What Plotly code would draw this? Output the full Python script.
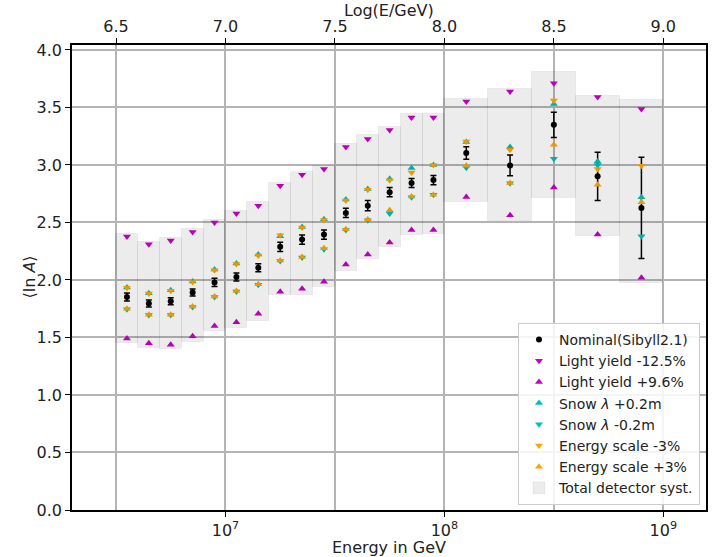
import plotly.graph_objects as go

# Bin edges in log10(E/GeV)
bin_lo = [6.5, 6.6, 6.7, 6.8, 6.9, 7.0, 7.1, 7.2, 7.3, 7.4, 7.5, 7.6, 7.7, 7.8, 7.9, 8.0, 8.2, 8.4, 8.6, 8.8]
bin_hi = [6.6, 6.7, 6.8, 6.9, 7.0, 7.1, 7.2, 7.3, 7.4, 7.5, 7.6, 7.7, 7.8, 7.9, 8.0, 8.2, 8.4, 8.6, 8.8, 9.0]

nominal = [1.852, 1.796, 1.815, 1.891, 1.979, 2.025, 2.106, 2.288, 2.351, 2.395,
           2.583, 2.646, 2.763, 2.843, 2.869, 3.104, 2.996, 3.349, 2.901, 2.626]
nominal_err = [0.035, 0.03, 0.03, 0.03, 0.035, 0.035, 0.035, 0.04, 0.04, 0.04,
               0.04, 0.045, 0.04, 0.04, 0.04, 0.055, 0.09, 0.11, 0.21, 0.44]
ly_minus = [2.378, 2.311, 2.343, 2.418, 2.499, 2.577, 2.646, 2.82, 2.915, 2.965,
            3.156, 3.225, 3.303, 3.413, 3.413, 3.551, 3.638, 3.71, 3.59, 3.486]
ly_plus = [1.491, 1.449, 1.437, 1.51, 1.6, 1.632, 1.707, 1.898, 1.924, 1.984,
           2.134, 2.221, 2.325, 2.434, 2.434, 2.722, 2.562, 2.805, 2.395, 2.019]
snow_plus = [1.935, 1.885, 1.911, 1.987, 2.092, 2.143, 2.222, 2.38, 2.46, 2.528,
             2.7, 2.79, 2.881, 2.973, 3.0, 3.2, 3.156, 3.531, 3.031, 2.719]
snow_minus = [1.745, 1.695, 1.695, 1.765, 1.852, 1.9, 1.958, 2.165, 2.195, 2.268,
              2.435, 2.52, 2.577, 2.72, 2.74, 2.975, 2.84, 3.054, 3.0, 2.38]
es_minus = [1.932, 1.882, 1.907, 1.982, 2.085, 2.138, 2.213, 2.388, 2.457, 2.522,
            2.69, 2.785, 2.866, 2.935, 3.0, 3.205, 3.132, 3.56, 2.965, 2.993]
es_plus = [1.75, 1.698, 1.697, 1.77, 1.857, 1.905, 1.962, 2.17, 2.2, 2.275,
           2.44, 2.525, 2.606, 2.725, 2.742, 2.993, 2.843, 3.176, 2.829, 2.675]
syst_top = [2.40, 2.33, 2.366, 2.444, 2.519, 2.597, 2.675, 2.843, 2.935, 2.987,
            3.184, 3.262, 3.329, 3.44, 3.444, 3.572, 3.662, 3.812, 3.60, 3.566]
syst_bottom = [1.455, 1.41, 1.397, 1.46, 1.556, 1.585, 1.643, 1.866, 1.866, 1.941,
               2.077, 2.184, 2.29, 2.392, 2.403, 2.675, 2.51, 2.713, 2.386, 1.976]

top_ticks = [6.5, 7.0, 7.5, 8.0, 8.5, 9.0]
bottom_ticks = [7, 8, 9]
bottom_labels = ["10<sup>7</sup>", "10<sup>8</sup>", "10<sup>9</sup>"]

centers = [(a + b) / 2 for a, b in zip(bin_lo, bin_hi)]
widths = [b - a for a, b in zip(bin_lo, bin_hi)]

FONT = "DejaVu Sans"
MAG = "#c800c8"
CYA = "#00bfbf"
ORA = "#ffa500"
XR = [6.299, 9.195]

fig = go.Figure()

fig.add_trace(go.Bar(
    x=centers, y=[t - b for t, b in zip(syst_top, syst_bottom)], base=syst_bottom,
    width=widths, name="Total detector syst.", xaxis="x2",
    marker=dict(color="rgba(0,0,0,0.075)", line=dict(color="rgba(0,0,0,0.05)", width=1)),
    legendrank=2000, hoverinfo="skip"))

fig.add_trace(go.Scatter(
    x=centers, y=nominal, mode="markers", name="Nominal(Sibyll2.1)",
    marker=dict(symbol="circle", size=6, color="black"),
    error_y=dict(type="data", array=nominal_err, color="black", thickness=1.5, width=3)))

series = [
    ("Light yield -12.5%", ly_minus, MAG, "triangle-down"),
    ("Light yield +9.6%", ly_plus, MAG, "triangle-up"),
    ("Snow <i>λ</i> +0.2m", snow_plus, CYA, "triangle-up"),
    ("Snow <i>λ</i> -0.2m", snow_minus, CYA, "triangle-down"),
    ("Energy scale -3%", es_minus, ORA, "triangle-down"),
    ("Energy scale +3%", es_plus, ORA, "triangle-up"),
]
for name, vals, col, sym in series:
    fig.add_trace(go.Scatter(x=centers, y=vals, mode="markers", name=name,
                             marker=dict(symbol=sym, size=7, color=col, line=dict(width=0))))

axis_common = dict(showline=True, linecolor="black", linewidth=1.5, ticks="outside",
                   ticklen=5, tickwidth=1.2, tickcolor="black", zeroline=False,
                   automargin=False,
                   tickfont=dict(family=FONT, size=16, color="#222"))

fig.update_layout(
    width=712, height=557,
    margin=dict(l=72, r=6, t=45, b=47),
    paper_bgcolor="white", plot_bgcolor="white",
    font=dict(family=FONT, size=16, color="#222"),
    bargap=0,
    xaxis=dict(range=XR, tickvals=bottom_ticks, ticktext=bottom_labels, showgrid=False,
               **axis_common),
    xaxis2=dict(range=XR, overlaying="x", side="top", tickvals=top_ticks,
                tickformat=".1f", showgrid=True, gridcolor="#b4b4b4", gridwidth=1.5,
                **axis_common),
    yaxis=dict(range=[0, 4.043], tickvals=[0, 0.5, 1, 1.5, 2, 2.5, 3, 3.5, 4],
               tickformat=".1f", showgrid=True, gridcolor="#b4b4b4", gridwidth=1.5,
               mirror=True, **axis_common),
    legend=dict(x=0.9905, xanchor="right", y=0.011, yanchor="bottom",
                bgcolor="rgba(255,255,255,0.85)", bordercolor="#cccccc", borderwidth=1,
                font=dict(family=FONT, size=14, color="#222"), tracegroupgap=0,
                itemwidth=30),
    showlegend=True,
    annotations=[
        dict(text="Energy in GeV", xref="paper", yref="paper", x=0.5, y=-(547 - 510) / 465,
             showarrow=False, font=dict(family=FONT, size=16, color="#222"),
             xanchor="center", yanchor="middle"),
        dict(text="Log(E/GeV)", xref="paper", yref="paper", x=0.5, y=1 + (45 - 11) / 465,
             showarrow=False, font=dict(family=FONT, size=16, color="#222"),
             xanchor="center", yanchor="middle"),
        dict(text="⟨ln <i>A</i>⟩", xref="paper", yref="paper", x=(29 - 72) / 634, y=0.5,
             textangle=-90, showarrow=False, font=dict(family=FONT, size=16, color="#222"),
             xanchor="center", yanchor="middle"),
    ],
)

# Remove the browser's default 8px body margin so the figure fills the window.
fig.write_html("out.html", config={"displayModeBar": False},
               post_script="document.body.style.margin='0';document.body.style.overflow='hidden';")
